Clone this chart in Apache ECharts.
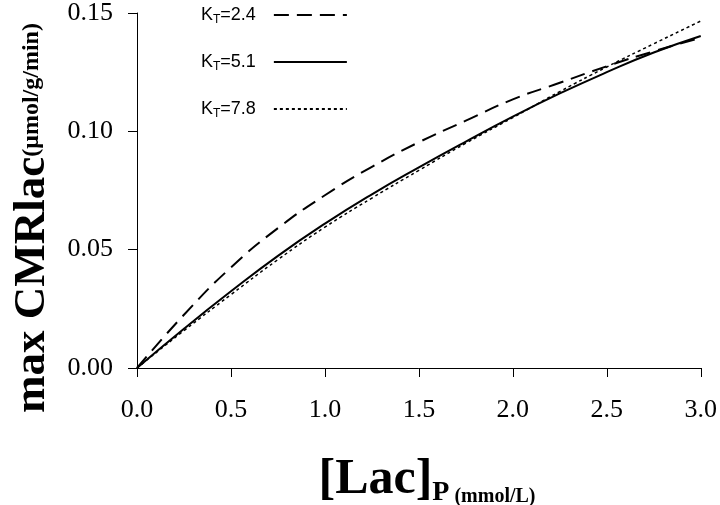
<!DOCTYPE html>
<html>
<head>
<meta charset="utf-8">
<script src="https://cdn.jsdelivr.net/npm/echarts@6/dist/echarts.min.js"></script>
<style>
  html, body { margin: 0; padding: 0; background: #fff; }
  #chart { width: 720px; height: 505px; }
</style>
</head>
<body>
<div id="chart"></div>
<script>
// [Lac]P (mmol/L)
var lacP = [0, 0.25, 0.5, 0.75, 1.0, 1.25, 1.5, 1.75, 2.0, 2.25, 2.5, 2.75, 3.0];
// max CMRlac, one curve per KT
var kt24 = [0, 0.0225, 0.0425, 0.0591, 0.0730, 0.0850, 0.0954, 0.1045, 0.1135, 0.1205, 0.1275, 0.1338, 0.1395];
var kt51 = [0, 0.0166, 0.0324, 0.0474, 0.0610, 0.0734, 0.0848, 0.0957, 0.1062, 0.1160, 0.1250, 0.1333, 0.1403];
var kt78 = [0, 0.0158, 0.0310, 0.0458, 0.0595, 0.0718, 0.0835, 0.0950, 0.1058, 0.1168, 0.1272, 0.1370, 0.1466];
var seriesNames = ['KT=2.4', 'KT=5.1', 'KT=7.8'];
var xTicks = ['0.0', '0.5', '1.0', '1.5', '2.0', '2.5', '3.0'];
var yTicks = ['0.00', '0.05', '0.10', '0.15'];

function pairs(ys) {
  return lacP.map(function (x, i) { return [x, ys[i]]; });
}

var serif = 'Liberation Serif';
var chart = echarts.init(document.getElementById('chart'));

var option = {
  animation: false,
  color: ['#000', '#000', '#000'],
  grid: { left: 137, right: 18, top: 8, bottom: 137 },
  legend: {
    orient: 'vertical',
    left: 196,
    top: 1,
    align: 'right',
    itemWidth: 73,
    itemHeight: 14,
    itemGap: 27,
    data: seriesNames,
    itemStyle: { opacity: 0 },
    formatter: function (name) {
      return '{k|K}{t|T}{v|' + name.slice(2) + '}';
    },
    textStyle: {
      color: '#000',
      rich: {
        k: { fontFamily: 'Liberation Sans', fontSize: 18, color: '#000' },
        t: { fontFamily: 'Liberation Sans', fontSize: 12, color: '#000', verticalAlign: 'bottom', lineHeight: 22 },
        v: { fontFamily: 'Liberation Sans', fontSize: 18, color: '#000', padding: [0, 13, 0, 0] }
      }
    }
  },
  xAxis: {
    type: 'value',
    min: 0,
    max: 3,
    interval: 0.5,
    axisLine: { lineStyle: { color: '#000', width: 1 } },
    axisTick: { length: 9, lineStyle: { color: '#000' } },
    axisLabel: {
      margin: 29,
      color: '#000',
      fontFamily: serif,
      fontSize: 26,
      formatter: function (v) { return xTicks[Math.round(v / 0.5)]; }
    },
    splitLine: { show: false }
  },
  yAxis: {
    type: 'value',
    min: 0,
    max: 0.15,
    interval: 0.05,
    axisLine: { show: true, lineStyle: { color: '#000', width: 1 } },
    axisTick: { show: true, length: 9, lineStyle: { color: '#000' } },
    axisLabel: {
      margin: 24,
      color: '#000',
      fontFamily: serif,
      fontSize: 26,
      formatter: function (v) { return yTicks[Math.round(v / 0.05)]; }
    },
    splitLine: { show: false }
  },
  graphic: [
    {
      type: 'text',
      x: 32,
      y: 218,
      rotation: Math.PI / 2,
      style: {
        text: '{m|max CMRlac}{s|(μmol/g/min)}',
        align: 'center',
        verticalAlign: 'middle',
        fill: '#000',
        rich: {
          m: { fontFamily: serif, fontWeight: 'bold', fontSize: 45, fill: '#000' },
          s: { fontFamily: serif, fontWeight: 'bold', fontSize: 24, fill: '#000', verticalAlign: 'middle' }
        }
      }
    },
    {
      type: 'text',
      x: 427,
      y: 480,
      style: {
        text: '{m|[Lac]}{p|P}{s| (mmol/L)}',
        align: 'center',
        verticalAlign: 'middle',
        fill: '#000',
        rich: {
          m: { fontFamily: serif, fontWeight: 'bold', fontSize: 50, fill: '#000', lineHeight: 54 },
          p: { fontFamily: serif, fontWeight: 'bold', fontSize: 28, fill: '#000', verticalAlign: 'bottom', lineHeight: 52 },
          s: { fontFamily: serif, fontWeight: 'bold', fontSize: 20, fill: '#000', verticalAlign: 'bottom', lineHeight: 46 }
        }
      }
    }
  ],
  series: [
    {
      name: seriesNames[0],
      type: 'line',
      data: pairs(kt24),
      smooth: true,
      symbol: 'none',
      itemStyle: { color: '#000' },
      lineStyle: { color: '#000', width: 2, type: [15, 8] }
    },
    {
      name: seriesNames[1],
      type: 'line',
      data: pairs(kt51),
      smooth: true,
      symbol: 'none',
      itemStyle: { color: '#000' },
      lineStyle: { color: '#000', width: 2, type: 'solid' }
    },
    {
      name: seriesNames[2],
      type: 'line',
      data: pairs(kt78),
      smooth: true,
      symbol: 'none',
      itemStyle: { color: '#000' },
      lineStyle: { color: '#000', width: 1.5, type: [3, 3] }
    }
  ]
};

chart.setOption(option);
</script>
</body>
</html>
